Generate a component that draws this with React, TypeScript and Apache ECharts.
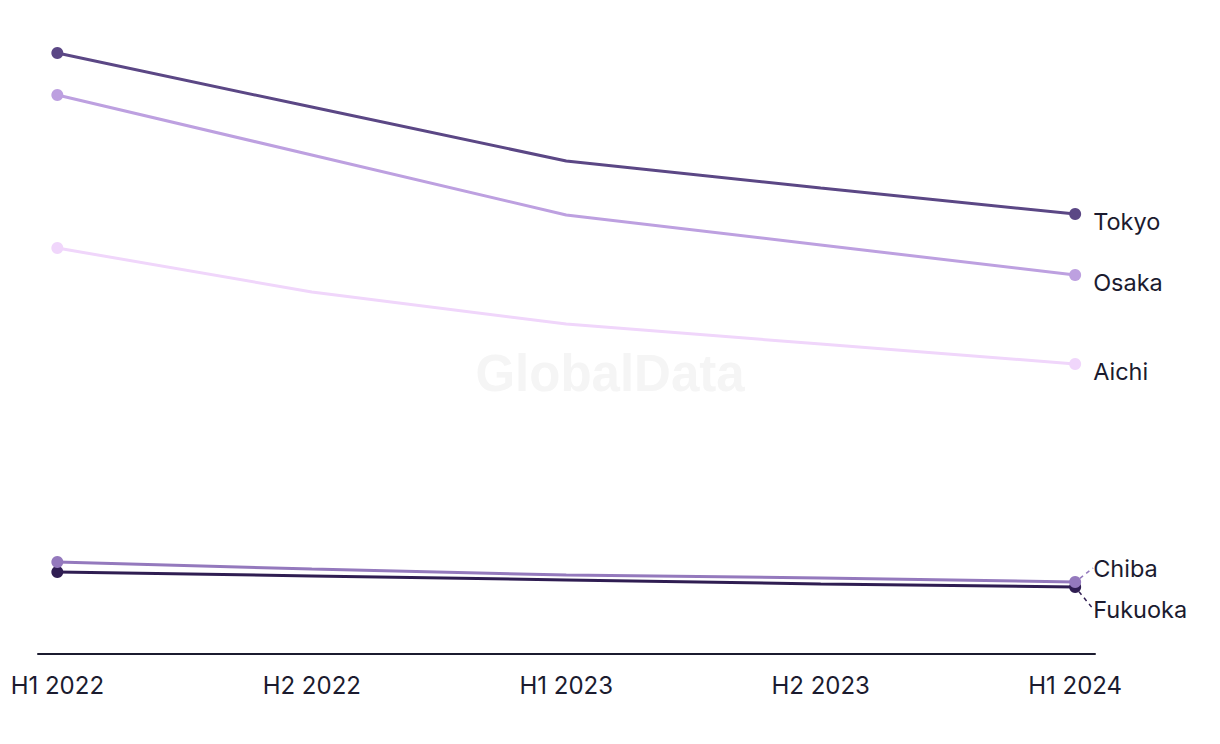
import React, { useEffect, useRef } from "react";
import * as echarts from "echarts";

const categories = ["H1 2022", "H2 2022", "H1 2023", "H2 2023", "H1 2024"];
const seriesNames = ["Tokyo", "Osaka", "Aichi", "Chiba", "Fukuoka"];
const tokyo = [60.1, 54.7, 49.3, 46.6, 44.0];
const osaka = [55.9, 49.9, 43.9, 40.9, 37.9];
const aichi = [40.6, 36.2, 33.0, 31.0, 29.0];
const chiba = [9.2, 8.5, 7.9, 7.6, 7.2];
const fukuoka = [8.2, 7.8, 7.4, 7.0, 6.7];
const seriesValues = [tokyo, osaka, aichi, chiba, fukuoka];
const colors = ["#5b4785", "#bda0e0", "#f0d6fb", "#9479bd", "#2f1d52"];
const labelShift = [0, 0, 0, -14, 22];

const TEXT = "#1b1b2f";
const FONT = "Inter";

export default function App() {
  const ref = useRef<HTMLDivElement>(null);
  useEffect(() => {
    if (!ref.current) return;
    const chart = echarts.init(ref.current, undefined, { renderer: "svg" });
    const last = categories.length - 1;
    const series = seriesNames.map((name, si) => ({
      name,
      type: "line",
      data: seriesValues[si].map((v, i) => {
        const item: any = { value: [i, v] };
        if (i === 0 || i === last) {
          item.symbol = "circle";
          item.symbolSize = 12;
        } else {
          item.symbol = "none";
        }
        if (i === last) {
          item.label = {
            show: true,
            position: "right",
            distance: 12,
            formatter: name,
            color: TEXT,
            fontSize: 23.5,
            fontFamily: FONT,
            offset: [0, 7],
          };
        }
        return item;
      }),
      showAllSymbol: true,
      lineStyle: { color: colors[si], width: 3 },
      itemStyle: { color: colors[si] },
      label: { show: false },
      labelLayout: labelShift[si] !== 0 ? { dy: labelShift[si] } : undefined,
      labelLine: {
        show: labelShift[si] !== 0,
        lineStyle: { color: colors[si], type: [4, 4], width: 1.5 },
      },
      z: 10 - si,
    }));
    chart.setOption({
      animation: false,
      grid: { left: 38, right: 125, top: 4, bottom: 90, containLabel: false },
      xAxis: {
        type: "value",
        min: -0.076,
        max: 4.078,
        axisLine: { show: true, onZero: false, lineStyle: { color: TEXT, width: 2 } },
        axisTick: { show: false },
        splitLine: { show: false },
        axisLabel: {
          customValues: [0, 1, 2, 3, 4],
          formatter: (v: number) => categories[Math.round(v)] ?? "",
          color: TEXT,
          fontSize: 24,
          fontFamily: FONT,
          margin: 19,
        },
      },
      yAxis: {
        type: "value",
        min: 0,
        max: 65,
        show: false,
        splitLine: { show: false },
      },
      graphic: [
        {
          type: "text",
          x: 610,
          y: 373,
          style: {
            text: "GlobalData",
            fill: "#f5f5f5",
            fontSize: 51,
            fontWeight: "bold",
            fontFamily: "Liberation Sans",
            textAlign: "center",
            textVerticalAlign: "middle",
          },
          z: -1,
        },
      ],
      series,
    });
    return () => chart.dispose();
  }, []);
  return (
    <div
      ref={ref}
      style={{ position: "fixed", left: 0, top: 0, width: 1220, height: 744, background: "#fff" }}
    />
  );
}
